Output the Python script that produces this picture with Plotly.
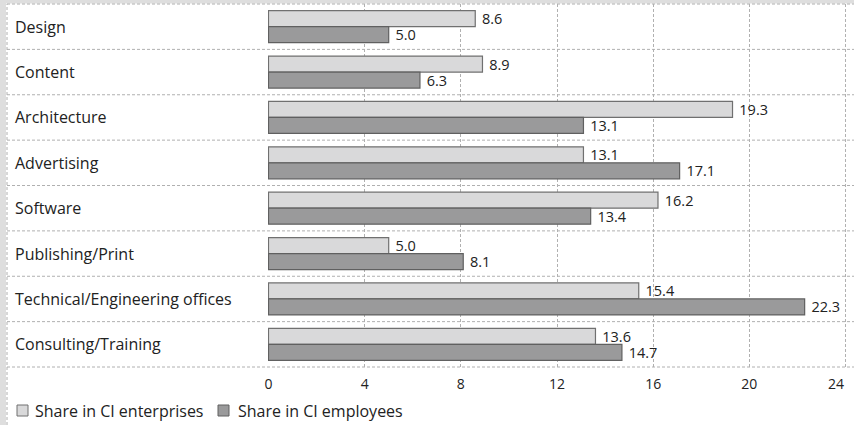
import plotly.graph_objects as go

categories = ["Design", "Content", "Architecture", "Advertising", "Software",
              "Publishing/Print", "Technical/Engineering offices", "Consulting/Training"]
enterprises = [8.6, 8.9, 19.3, 13.1, 16.2, 5.0, 15.4, 13.6]
employees = [5.0, 6.3, 13.1, 17.1, 13.4, 8.1, 22.3, 14.7]
x_ticks = [0, 4, 8, 12, 16, 20, 24]
series_names = ["Share in CI enterprises", "Share in CI employees"]

W, H = 854, 425
ML, MR, MT, MB = 268, 8, 4, 58
PW, PH = W - ML - MR, H - MT - MB

FONT = "Open Sans"
TXT = "#222222"
GRID = "#b0b0b0"
LIGHT, LIGHT_EDGE = "#d9d9da", "#707070"
DARK, DARK_EDGE = "#9a9a9b", "#606060"


def px_x(px):
    return (px - ML) / PW


def px_y(py):
    return (H - MB - py) / PH


fig = go.Figure()
fig.add_trace(go.Bar(
    y=categories, x=enterprises, orientation="h", name=series_names[0],
    marker=dict(color=LIGHT, line=dict(color=LIGHT_EDGE, width=1.2)),
    texttemplate=" %{x:.1f}", textposition="outside", cliponaxis=False,
    constraintext="none",
    textfont=dict(family=FONT, size=14.5, color=TXT),
))
fig.add_trace(go.Bar(
    y=categories, x=employees, orientation="h", name=series_names[1],
    marker=dict(color=DARK, line=dict(color=DARK_EDGE, width=1.2)),
    texttemplate=" %{x:.1f}", textposition="outside", cliponaxis=False,
    constraintext="none",
    textfont=dict(family=FONT, size=14.5, color=TXT),
))

shapes = []
# frame strips along the top and left edge
shapes.append(dict(type="rect", xref="paper", yref="paper", x0=px_x(0), x1=px_x(W),
                   y0=px_y(0), y1=px_y(3.5), fillcolor="#dedede", line_width=0, layer="below"))
shapes.append(dict(type="rect", xref="paper", yref="paper", x0=px_x(0), x1=px_x(6),
                   y0=px_y(H), y1=px_y(0), fillcolor="#dedede", line_width=0, layer="below"))
shapes.append(dict(type="line", xref="paper", yref="paper", x0=px_x(7), x1=px_x(7),
                   y0=px_y(H), y1=px_y(4), line=dict(color=GRID, width=1, dash="3px,2px")))
# row separators spanning the label column
n = len(categories)
for i in range(n + 1):
    yy = 1 - i / n
    shapes.append(dict(type="line", xref="paper", yref="paper", x0=px_x(7), x1=px_x(W),
                       y0=yy, y1=yy, line=dict(color=GRID, width=1, dash="3px,2px")))
# closing gridline at the end of the value axis
shapes.append(dict(type="line", xref="x", yref="paper", x0=x_ticks[-1], x1=x_ticks[-1],
                   y0=0, y1=1, line=dict(color=GRID, width=1, dash="3px,2px"), layer="below"))

# legend keys drawn as small squares with text beside them
legend_items = [(17, 37, LIGHT, LIGHT_EDGE), (218, 240, DARK, DARK_EDGE)]
for (sx, tx, fill, edge), name in zip(legend_items, series_names):
    shapes.append(dict(type="rect", xref="paper", yref="paper",
                       x0=px_x(sx), x1=px_x(sx + 11), y0=px_y(416), y1=px_y(405),
                       fillcolor=fill, line=dict(color=edge, width=1)))
    fig.add_annotation(x=px_x(tx - 4), xref="paper", y=px_y(410.5), yref="paper", text=name,
                       showarrow=False, xanchor="left", yanchor="middle",
                       font=dict(family=FONT, size=16, color=TXT))
fig.update_layout(shapes=shapes)

for c in categories:
    fig.add_annotation(x=px_x(13), xref="paper", y=c, yref="y", text=c, showarrow=False,
                       xanchor="left", yanchor="middle",
                       font=dict(family=FONT, size=16, color=TXT))

# the last tick label sits flush against its gridline so it stays inside the page
fig.add_annotation(x=x_ticks[-1], xref="x", y=px_y(384), yref="paper", text=str(x_ticks[-1]),
                   showarrow=False, xanchor="right", yanchor="middle",
                   font=dict(family=FONT, size=14, color=TXT))

fig.update_layout(
    width=W, height=H,
    margin=dict(l=ML, r=MR, t=MT, b=MB),
    paper_bgcolor="white", plot_bgcolor="white",
    barmode="group", bargap=0.295, bargroupgap=0,
    font=dict(family=FONT, size=14, color=TXT),
    showlegend=False,
    xaxis=dict(range=[-0.02, 24.02], tickvals=x_ticks,
               ticktext=[str(t) for t in x_ticks[:-1]] + [""],
               showgrid=True, gridcolor=GRID, automargin=False,
               griddash="3px,2px", gridwidth=1, zeroline=False, showline=False,
               ticks="", ticklabelstandoff=7,
               tickfont=dict(family=FONT, size=14, color=TXT)),
    yaxis=dict(autorange="reversed", showticklabels=False, showgrid=False,
               zeroline=False, showline=False, ticks="", automargin=False),
)

fig.write_html("out.html")
